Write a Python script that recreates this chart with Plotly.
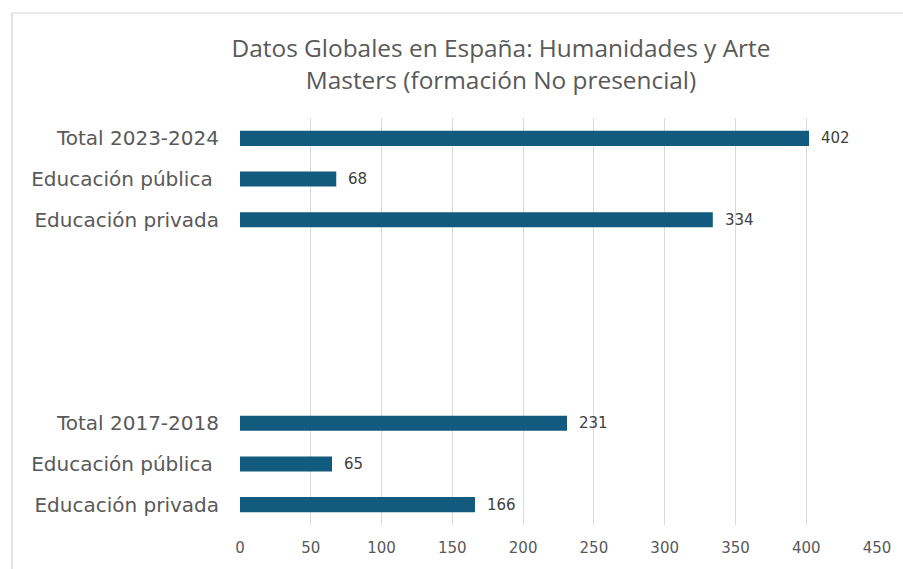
import plotly.graph_objects as go

title_lines = ["Datos Globales en España: Humanidades y Arte", "Masters (formación No presencial)"]
categories = ["Total 2023-2024", "Educación pública\u00a0", "Educación privada", "", "", "", "",
              "Total 2017-2018", "Educación pública\u00a0", "Educación privada"]
values = [402, 68, 334, None, None, None, None, 231, 65, 166]
x_ticks = [0, 50, 100, 150, 200, 250, 300, 350, 400, 450]

positions = list(range(len(categories)))
bar_color = "#125a7e"
text_color = "#404040"
label_font = "DejaVu Sans"

fig = go.Figure()
fig.add_trace(go.Bar(
    x=values, y=positions, orientation="h",
    marker=dict(color=bar_color, line=dict(width=0)),
    width=0.37, hoverinfo="x+y",
))

for p, v in zip(positions, values):
    if v is not None:
        fig.add_annotation(x=v, y=p, text=str(v), showarrow=False, xanchor="left",
                           xshift=10, font=dict(family=label_font, size=15, color=text_color))

W, H = 903, 569
ml, mr, mt, mb = 240, 26, 118, 44
pw, ph = W - ml - mr, H - mt - mb
def px2paper_x(px):
    return (px - ml) / pw
def px2paper_y(py):
    return (H - mb - py) / ph
fig.add_shape(type="line", xref="paper", yref="paper",
              x0=px2paper_x(12), x1=px2paper_x(12), y0=px2paper_y(13), y1=px2paper_y(575),
              line=dict(color="#d9d9d9", width=1.5))
fig.add_shape(type="line", xref="paper", yref="paper",
              x0=px2paper_x(12), x1=px2paper_x(910), y0=px2paper_y(13), y1=px2paper_y(13),
              line=dict(color="#e3e3e3", width=1.5))

fig.update_layout(
    width=W, height=H,
    margin=dict(l=ml, r=mr, t=mt, b=mb),
    paper_bgcolor="white", plot_bgcolor="white",
    showlegend=False,
    title=dict(text="<br>".join(title_lines), xref="container", x=501 / W, xanchor="center",
               yref="container", y=1 - 57 / H, yanchor="middle",
               font=dict(family="Open Sans", size=24.4, color="#595959")),
    xaxis=dict(range=[0, 450], tickvals=x_ticks, showgrid=True, gridcolor="#d9d9d9", gridwidth=1,
               zeroline=False, showline=False, ticks="", ticklabelstandoff=12,
               tickfont=dict(family=label_font, size=15, color="#595959")),
    yaxis=dict(range=[len(categories) - 0.5, -0.5], tickvals=positions, ticktext=categories,
               showgrid=False, zeroline=False, showline=False, ticks="", ticklabelstandoff=20,
               tickfont=dict(family=label_font, size=20, color="#595959")),
    bargap=0.6,
)

fig.write_html("out.html", post_script="document.body.style.margin='0';",
               config={"displayModeBar": False})
